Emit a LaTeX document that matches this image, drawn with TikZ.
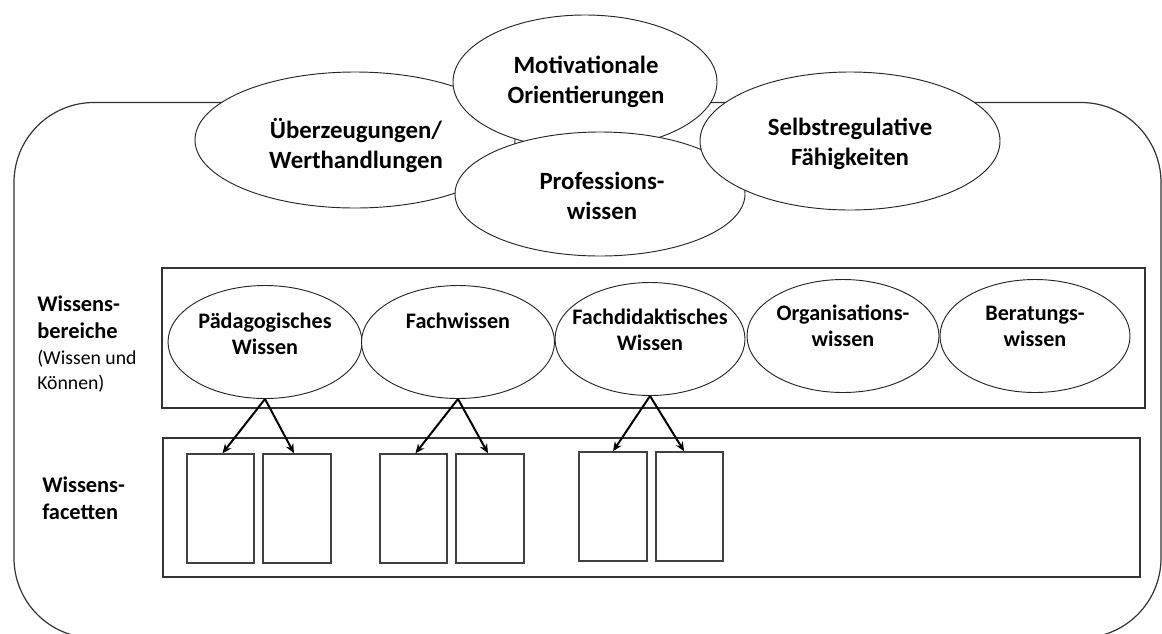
\documentclass[tikz,border=0pt]{standalone}
\usepackage{fontspec}
\setmainfont{Carlito}
\usetikzlibrary{shapes.geometric,arrows.meta}
\begin{document}
\begin{tikzpicture}[x=0.75pt,y=-0.75pt,
  ell/.style={ellipse,draw=black!85,line width=0.7pt,fill=white,inner sep=0pt},
  bigtxt/.style={font=\bfseries\fontsize{18.6}{22.5}\selectfont,align=center,inner sep=0pt},
  midtxt/.style={font=\bfseries\fontsize{16.6}{19.5}\selectfont,align=center,inner sep=0pt},
  sidetxt/.style={font=\bfseries\fontsize{16.8}{20.25}\selectfont,align=left,inner sep=0pt,anchor=north west},
  smalltxt/.style={font=\fontsize{14.8}{18.75}\selectfont,align=left,inner sep=0pt,anchor=north west},
  boxframe/.style={draw=black!80,line width=1pt},
  facet/.style={draw=black!75,line width=1.1pt,fill=white,inner sep=0pt},
  arr/.style={line width=1.5pt,-{Stealth[length=7pt,width=6pt]}}]
\useasboundingbox (0,0) rectangle (1162,633);
\clip (0,0) rectangle (1162,633);
\fill[white] (0,0) rectangle (1162,633);
% outer frame
\draw[draw=black!80,line width=0.9pt,rounded corners=60pt] (14,102.5) rectangle (1161,638);
% top ellipses
\node[ell,minimum width=240pt,minimum height=102pt] (ueb) at (355,140) {};
\node[ell,minimum width=198pt,minimum height=100.5pt] (mot) at (585,82) {};
\node[ell,minimum width=217.5pt,minimum height=93pt] (pro) at (600,194) {};
\node[ell,minimum width=225pt,minimum height=103.5pt] (sel) at (850,141) {};
\node[bigtxt] at (356,145) {Überzeugungen/\\Werthandlungen};
\node[bigtxt] at (586,82) {Motivationale\\Orientierungen};
\node[bigtxt] at (850,144) {Selbstregulative\\Fähigkeiten};
\node[bigtxt] at (602,196) {Professions-\\wissen};
% middle box
\node[boxframe,inner sep=0pt,minimum width=737.25pt,minimum height=105pt] (bereich) at (653.5,338) {};
\node[ell,minimum width=145.5pt,minimum height=84.75pt] (pad) at (265,342) {};
\node[ell,minimum width=144.75pt,minimum height=84.75pt] (fach) at (458,342) {};
\node[ell,minimum width=142.5pt,minimum height=84.75pt] (fdid) at (650,339) {};
\node[ell,minimum width=144pt,minimum height=84.75pt] (org) at (843,336) {};
\node[ell,minimum width=142.5pt,minimum height=84.75pt] (ber) at (1035,336) {};
\node[midtxt] at (265,334) {Pädagogisches\\Wissen};
\node[midtxt] at (458,321) {Fachwissen};
\node[midtxt] at (650,330) {Fachdidaktisches\\Wissen};
\node[midtxt] at (843,326) {Organisations-\\wissen};
\node[midtxt] at (1035,326) {Beratungs-\\wissen};
% bottom box
\node[boxframe,inner sep=0pt,minimum width=732.75pt,minimum height=104.25pt] (facetten) at (651.5,507.5) {};
\node[facet,minimum width=50.25pt,minimum height=81.75pt] (f1) at (220.5,508.5) {};
\node[facet,minimum width=51pt,minimum height=81.75pt] (f2) at (297,508.5) {};
\node[facet,minimum width=50.25pt,minimum height=81.75pt] (f3) at (413.5,508.5) {};
\node[facet,minimum width=51pt,minimum height=81.75pt] (f4) at (490,508.5) {};
\node[facet,minimum width=51pt,minimum height=81.75pt] (f5) at (613,506.5) {};
\node[facet,minimum width=50.25pt,minimum height=81.75pt] (f6) at (689.5,506.5) {};
% arrows
\draw[arr] (pad.south) -- ([xshift=1.5pt]f1.north);
\draw[arr] (pad.south) -- ([xshift=-2.25pt]f2.north);
\draw[arr] (fach.south) -- ([xshift=1.5pt]f3.north);
\draw[arr] (fach.south) -- ([xshift=-1.5pt]f4.north);
\draw[arr] (fdid.south) -- (f5.north);
\draw[arr] (fdid.south) -- ([xshift=-4pt]f6.north);
% side labels
\node[sidetxt] (lb1) at (37,296) {Wissens-\\bereiche};
\node[smalltxt] (lb2) at (37,350) {(Wissen und\\Können)};
\node[sidetxt] (lb3) at (42,477) {Wissens-\\facetten};
\end{tikzpicture}
\end{document}
